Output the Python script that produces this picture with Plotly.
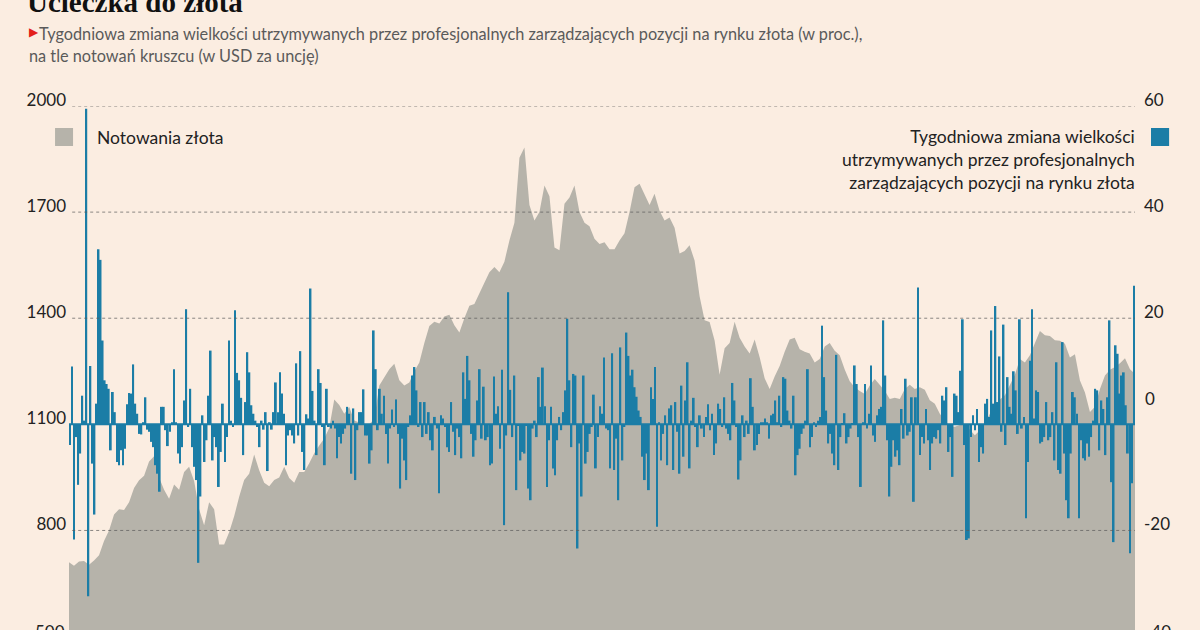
import numpy as np
import plotly.graph_objects as go

# ---------------- data ----------------
title = "Ucieczka do złota"
subtitle_1 = "Tygodniowa zmiana wielkości utrzymywanych przez profesjonalnych zarządzających pozycji na rynku złota (w proc.),"
subtitle_2 = "na tle notowań kruszcu (w USD za uncję)"
legend_gold = "Notowania złota"
legend_change = "Tygodniowa zmiana wielkości<br>utrzymywanych przez profesjonalnych<br>zarządzających pozycji na rynku złota"

left_ticks = [800, 1100, 1400, 1700, 2000]
right_ticks = [-20, 20, 40, 60]

# gold price (USD/oz), evenly spaced over the period
gold_price = [
    710, 700, 712, 714, 703, 715, 730, 770, 800, 845, 860, 858, 880, 920, 942, 955, 995, 1010, 950, 915,
    890, 930, 915, 965, 980, 940, 860, 815, 880, 860, 760, 760, 795, 840, 895, 943, 960, 1015, 970, 935,
    925, 943, 950, 980, 948, 935, 965, 965, 990, 1018, 1040, 1060, 1090, 1170, 1155, 1130, 1149, 1111, 1105, 1098,
    1100, 1115, 1210, 1233, 1256, 1271, 1225, 1210, 1218, 1250, 1275, 1330, 1378, 1390, 1385, 1405, 1410, 1380, 1360, 1400,
    1435, 1440, 1468, 1500, 1530, 1545, 1530, 1560, 1620, 1670, 1854, 1883, 1720, 1676, 1700, 1775, 1745, 1600, 1592, 1724,
    1741, 1775, 1700, 1670, 1660, 1625, 1610, 1615, 1595, 1595, 1620, 1640, 1700, 1770, 1780, 1750, 1720, 1752, 1704, 1676,
    1685, 1656, 1583, 1590, 1606, 1563, 1462, 1394, 1389, 1337, 1240, 1315, 1330, 1390, 1345, 1320, 1300, 1340, 1290, 1230,
    1200, 1235, 1265, 1305, 1340, 1345, 1312, 1305, 1300, 1275, 1285, 1320, 1330, 1308, 1295, 1255, 1222, 1205, 1194, 1186,
    1210, 1228, 1212, 1195, 1172, 1175, 1172, 1200, 1212, 1200, 1205, 1198, 1168, 1158, 1130, 1111, 1093, 1093, 1098, 1100,
    1083, 1069, 1083, 1102, 1130, 1149, 1170, 1182, 1210, 1240, 1285, 1275, 1295, 1330, 1364, 1352, 1350, 1338, 1336, 1328,
    1289, 1298, 1224, 1190, 1135, 1150, 1200, 1238, 1254, 1262, 1273, 1287, 1256, 1242,
]

# weekly change of managed-money positions (%), in five consecutive stretches
change_part1 = [
    -3.9, 10.9, -21.7, -2.4, -11.4, -5.5, 5.4, 0.7, 59.5, -32.4, 11, -7.4, -17, 3.9, 33, 31, 15.8, 8.3, 7.6, 6.7,
    -4.9, 6.1, 2.3, -7.1, -7.7, -4.9, -7.7, -4.6, 3.8, 5.9, 5.8, 11.3, 3.9, 2, -1.8, -1.9, 0.4, 5.1, -1, -1.4,
    -3.3, -4.3, -7.7, -9.3, -12.7, 3.3, 3.3, -1.1, -4.1, -1.4, 0.4, 10.4, 0.4, -5.5, -7.4, -4.3, 4.5, 21.7, -0.5, 6.7,
    -4.3, -8, -10.5, -26.1, -13.6, 1.7, -7.1, -3, 5.4, 13.9, -6.8, -2.4, -4.3, -11.8, -5.2, 3.9, -7.1, -2.4, 15.8, 0.7,
    -0.5, 21.5, 9.7, 8.3, 5, -5.8, 4.2, 13.6, 9.8, 3.6, 2, 0.7, -0.5, -4.3, 0.7, -1, 2.3, -8.8, 0.4, -1, 2.3,
]
change_part2 = [
    7.9, 2.3, 9.8, 5.8, 2, -7.7, -2.1, -1.1, -2.1, -3.6, 11.5, -2.1, 13.8, -5.2, -8.6, 1.9, 1.1, 25.6, 6.3, 0.7,
    -5.8, 10.4, 7.8, -0.5, -7.7, 6.7, -0.5, -0.8, 0.7, -0.8, -6.4, -2.4, -3.6, -1.8, -0.8, 3.3, 2, -9.3, 3, -10.5,
    -1.1, 2.3, 2.3, 6.6, -2.1, -2.1, -7.4, -4.9, 17.7, 10.4, -1.1, 6.7, 2, 5.4, -1.8, -7.4, -0.8, 2.8, -0.5, 4.7,
    -1.8, -12.1, -2.7, -6.8, -10.5, -0.5, 1.7, 9.2, 10.8, 6.4, -0.5, 4.2, -2.4, 4.2, -1.8, 2.3, -3, -4.9, 1.4, -0.8,
    -13, 1.7, 1.1, -0.5, -4.3, -5.2, 4.2, -1.4, -5.8, -0.8, -2.4, -6.4, 9.8, 4.8, 12.9, 8.3, -1.8, -6.1, -3, 4.5,
    10.4, -2.7, 7.1, -3, -2.4, -7.7,
]
change_part3 = [
    -7.4, 9, 2, 3.4, -4.6, 10.3, -19, -2.1, 24.9, 6.5, -2.4, 9.2, -12.4, -0.3, -6.8, -5.2, -5.5, -0.3, -12.1, -14.3,
    -0.8, 0.7, -2.4, 8.9, 3.3, 10.7, 3.4, -11.8, -3, 3.3, -8.3, -9.6, -3, 1.4, -1.1, 2.3, 6.4, 19.9, 8.3, -4.3,
    9.5, 9.2, -23.4, -3.6, -13.6, 9.2, -7.4, -5.2, -1.8, -0.5, 5.6, -8.3, -2.4, 3.4, 2, 12.6, -0.8, -1.1, -8.3, 13.4,
    -8.6, -2.7, -14.3, 14.5, -6.8, -0.5, 17.3, 12.9, 9.2, 10.3, 7, 5.2, 2.6, 1.4, -6.1, -10.5, -5.5, -12.4, 7, 4.8,
    10.8, -19.3, 0.4, -6.8, -1.8, 1.7, -7.7, 3, 3.6, -8.6, 4.2, -1.4, -9.3, 7.3, -6.1, 4.5, 11.7, -8.3, 0.7, 5,
    -0.5, -4.3, 1.7, -0.8,
]
change_part4 = [
    -2.4, 1.4, 3.8, -1.1, 2, -5.8, -3.6, 3.9, 2.9, -0.5, 5.1, -0.8, -1.8, -3, 7.8, 4.5, -0.5, -10.4, -6.8, 1.7,
    -2.4, 0.7, -1.8, 8.7, 3.3, -4.9, -3.9, -1.8, 0.4, 0.4, 1.1, 0.4, -2.7, 1.7, 2, 4.5, 0.4, 5.4, -0.5, 8.9,
    8.6, 2.6, 0.7, -0.8, 5.4, -9.6, -5.8, -4.6, -1.8, -0.8, 0.7, 10.4, -4.3, -2.4, 0.4, -0.5, 0.7, 1.4, 18.6, 8.9,
    2.6, -3.6, -1.8, -5.5, -7.7, 13.1, -8.6, -2.4, 0.1, 2.1, -3.6, -2.4, -0.8, 0.1, 11.1, 7.6, -2.4, -11.8, 0.4, 7.6,
    -0.8, 2, 11.1, -2.1, -3.3, 1.7, 2.9, 3.3, 19.6, 9.2, -3, -13.6, -8, -3, -6.1, -4.9, -7.7, 2.9, -2.7, 8.6,
    -2.1, -1.4, 5.1, -14.6,
]
change_part5 = [
    5.1, 25.8, -5.8, -2.4, -3.6, 2.9, -3, -8.6, -3.6, -2.4, -2.7, -1.1, -3.6, 5.4, 4.5, 7, -5.2, -2.4, -9.9, 5.8,
    5.4, 2.3, 10.1, 19.8, -3.9, -21.8, -21.5, -2.4, 1.7, -1.1, 2.9, -7.1, -4.3, -5.5, 3.9, 4.8, 1.4, 17.7, 3.9, 22.3,
    4.2, 12.8, -1.4, 18.8, -3.9, 8.9, 3.3, 2, 10, 6.4, -1.8, 19.8, -0.8, 1.4, -17.7, -7.1, 12, 21.7, 1.1, 6.4,
    6.1, -3.6, -3.3, -2.4, 4.2, -3, -2.4, 2.3, -6.8, 11.7, -8.6, -9.3, 15.5, -5.5, -14.3, -17.7, -5.5, 6.1, 5.1, 2,
    -17.7, -3, -6.4, -6.8, -3.6, -6.1, -2.4, 0.7, 6.7, 6.4, -4.9, 4.5, 2.9, -5.8, 5.1, 19.6, -10.9, -22.2, 14.9, 13.3,
    5.8, 9.2, 9.8, 3.6, -5.5, -24.3, -11.1, 26.1,
]

# ---------------- styling ----------------
BG = "#FBEDE1"
GREY = "#B6B3AA"
BLUE = "#1B7DA6"
TXT = "#222222"
FONT = "Lato, 'Open Sans', sans-serif"

weekly_change = change_part1 + change_part2 + change_part3 + change_part4 + change_part5
n_weeks = len(weekly_change)
weeks = np.arange(n_weeks)
gold_x = np.linspace(-0.5, n_weeks - 0.5, len(gold_price))

Y_MIN, Y_MAX = 518.6, 2000
Y2_MIN, Y2_MAX = (Y_MIN - 1100) / 15, (Y_MAX - 1100) / 15

fig = go.Figure()
fig.add_trace(go.Scatter(
    x=gold_x, y=gold_price, mode="lines", line=dict(width=0, color=GREY),
    fill="tozeroy", fillcolor=GREY, hoverinfo="skip", showlegend=False,
))
fig.add_trace(go.Bar(
    x=weeks, y=weekly_change, yaxis="y2", marker=dict(color=BLUE, line=dict(width=0)),
    showlegend=False,
))

# gridlines on top of the area
shapes = []
for v in left_ticks:
    if v == 1100:
        continue
    shapes.append(dict(type="line", xref="paper", x0=0.003, x1=1, yref="y", y0=v, y1=v,
                       line=dict(color="rgba(90,90,90,0.7)", width=1, dash="dot"), layer="above"))
# zero line of the bars
shapes.append(dict(type="line", xref="paper", x0=0, x1=1, yref="y", y0=1100, y1=1100,
                   line=dict(color=BLUE, width=2), layer="above"))
# legend swatches
shapes.append(dict(type="rect", xref="paper", yref="paper", x0=-0.0131, x1=0.0038, y0=0.9237, y1=0.958,
                   fillcolor=GREY, line=dict(width=0)))
shapes.append(dict(type="rect", xref="paper", yref="paper", x0=1.015, x1=1.032, y0=0.9237, y1=0.958,
                   fillcolor=BLUE, line=dict(width=0)))

annotations = [
    dict(text="<b>" + title + "</b>", xref="paper", yref="paper", x=-0.0413, y=1.1985,
         xanchor="left", yanchor="middle", showarrow=False,
         font=dict(family="'Liberation Serif', 'DejaVu Serif', serif", size=29, color="#111111")),
    dict(text="▶", xref="paper", yref="paper", x=-0.0395, y=1.1415, xanchor="left", yanchor="middle",
         showarrow=False, font=dict(family="DejaVu Sans", size=12, color="#E3211B")),
    dict(text=subtitle_1, xref="paper", yref="paper", x=-0.0300, y=1.1393, xanchor="left", yanchor="middle",
         showarrow=False, font=dict(family=FONT, size=16.3, color="#5A5A5A")),
    dict(text=subtitle_2, xref="paper", yref="paper", x=-0.0395, y=1.0973, xanchor="left", yanchor="middle",
         showarrow=False, font=dict(family=FONT, size=16.3, color="#5A5A5A")),
    dict(text=legend_gold, xref="paper", yref="paper", x=0.0245, y=0.9408, xanchor="left", yanchor="middle",
         showarrow=False, font=dict(family=FONT, size=17.5, color=TXT)),
    dict(text=legend_change, xref="paper", yref="paper", x=1.0019, y=0.8970, xanchor="right", yanchor="middle",
         align="right", showarrow=False, font=dict(family=FONT, size=17.5, color=TXT)),
    # bottom tick labels, cut by the picture edge
    dict(text="500", xref="paper", yref="paper", x=-0.0019, y=-0.002, xanchor="right", yanchor="middle",
         showarrow=False, font=dict(family=FONT, size=17, color=TXT)),
    dict(text="-40", xref="paper", yref="paper", x=1.0075, y=-0.002, xanchor="left", yanchor="middle",
         showarrow=False, font=dict(family=FONT, size=17, color=TXT)),
    dict(text="0", xref="paper", yref="paper", x=1.0075, y=0.4427, xanchor="left", yanchor="middle",
         showarrow=False, font=dict(family=FONT, size=17, color=TXT)),
]

fig.update_layout(
    width=1200, height=630,
    margin=dict(l=69, r=65, t=106, b=0),
    paper_bgcolor=BG, plot_bgcolor=BG,
    bargap=0.12,
    showlegend=False,
    xaxis=dict(visible=False, range=[-0.5, n_weeks - 0.5]),
    yaxis=dict(range=[Y_MIN, Y_MAX], tickvals=left_ticks, ticktext=[str(v) for v in left_ticks],
               showgrid=False, zeroline=False, showline=False, ticks="",
               ticklabelstandoff=2, ticklabelshift=-6,
               tickfont=dict(family=FONT, size=17, color=TXT)),
    yaxis2=dict(range=[Y2_MIN, Y2_MAX], overlaying="y", side="right", tickvals=right_ticks,
                ticktext=[str(v) for v in right_ticks],
                showgrid=False, zeroline=False, showline=False, ticks="",
                ticklabelstandoff=8, ticklabelshift=-6,
                tickfont=dict(family=FONT, size=17, color=TXT)),
    shapes=shapes,
    annotations=annotations,
)

fig.write_html(
    "out.html",
    config={"displayModeBar": False},
    post_script="document.body.style.margin='0';document.body.style.background='" + BG + "';",
)
